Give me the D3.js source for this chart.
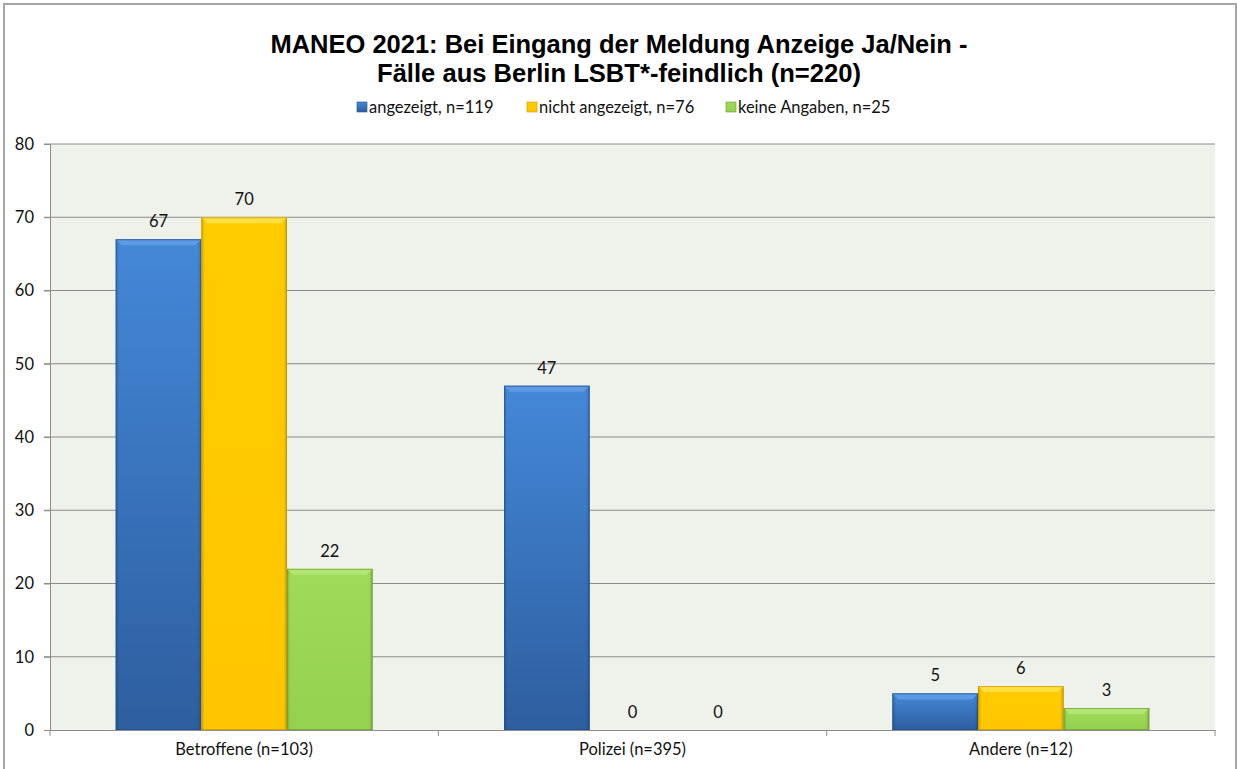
<!doctype html>
<html lang="de">
<head>
<meta charset="utf-8">
<title>MANEO 2021: Anzeige Ja/Nein</title>
<style>
body { margin: 0; background: #fff; font-family: Lato, "Open Sans", Arial, sans-serif; }
svg { display: block; }
</style>
</head>
<body>
<div id="chart"></div>
<script src="https://cdnjs.cloudflare.com/ajax/libs/d3/7.8.5/d3.min.js"></script>
<script>
var categories = ["Betroffene (n=103)", "Polizei (n=395)", "Andere (n=12)"];
var series = ["angezeigt, n=119", "nicht angezeigt, n=76", "keine Angaben, n=25"];
var angezeigt = [67, 47, 5];
var nichtAngezeigt = [70, 0, 6];
var keineAngaben = [22, 0, 3];
var yTicks = [0, 10, 20, 30, 40, 50, 60, 70, 80];
var titleLines = ["MANEO 2021: Bei Eingang der Meldung Anzeige Ja/Nein -",
                  "Fälle aus Berlin LSBT*-feindlich (n=220)"];

var values = [angezeigt, nichtAngezeigt, keineAngaben];
var colors = [
    {top: "#4488d8", bottom: "#2d5e9f", bevel: "#5c9ae4", edge: "#24508a"},
    {top: "#ffcc00", bottom: "#ffc600", bevel: "#ffe040", edge: "#c99400"},
    {top: "#9fdb58", bottom: "#94d14f", bevel: "#b4e676", edge: "#6f9c35"}
];

var W = 1237, H = 769;
var plot = {left: 50, right: 1215, top: 144, bottom: 730};
var labelFont = "Lato, 'Open Sans', sans-serif";

var svg = d3.select("#chart").append("svg").attr("width", W).attr("height", H);
var defs = svg.append("defs");
colors.forEach(function(c, i) {
    var g = defs.append("linearGradient").attr("id", "grad" + i)
        .attr("x1", 0).attr("y1", 0).attr("x2", 0).attr("y2", 1);
    g.append("stop").attr("offset", "0%").attr("stop-color", c.top);
    g.append("stop").attr("offset", "100%").attr("stop-color", c.bottom);
    var s = defs.append("linearGradient").attr("id", "side" + i)
        .attr("x1", 0).attr("y1", 0).attr("x2", 1).attr("y2", 0);
    s.append("stop").attr("offset", "0%").attr("stop-color", "#000").attr("stop-opacity", 0.18);
    s.append("stop").attr("offset", "4%").attr("stop-color", "#000").attr("stop-opacity", 0);
    s.append("stop").attr("offset", "96%").attr("stop-color", "#000").attr("stop-opacity", 0);
    s.append("stop").attr("offset", "100%").attr("stop-color", "#000").attr("stop-opacity", 0.2);
});

// outer frame
svg.append("rect").attr("x", 4).attr("y", 4).attr("width", W - 5).attr("height", H + 10)
    .attr("fill", "none").attr("stroke", "#a6a6a6").attr("stroke-width", 2);

// title
svg.append("g").selectAll("text").data(titleLines).join("text")
    .attr("x", 619)
    .attr("y", function(d, i) { return 53 + i * 29; })
    .attr("text-anchor", "middle")
    .attr("font-family", "'Liberation Sans', Arial, sans-serif")
    .attr("font-weight", "bold")
    .attr("font-size", 26.5)
    .attr("textLength", function(d, i) { return i === 0 ? 697 : 484; })
    .attr("lengthAdjust", "spacingAndGlyphs")
    .attr("fill", "#000")
    .text(function(d) { return d; });

// legend
var legendX = [357, 527, 726];
var legend = svg.append("g").selectAll("g").data(series).join("g")
    .attr("transform", function(d, i) { return "translate(" + legendX[i] + ",102)"; });
legend.append("rect").attr("width", 10).attr("height", 10)
    .attr("fill", function(d, i) { return "url(#grad" + i + ")"; })
    .attr("stroke", function(d, i) { return colors[i].edge; }).attr("stroke-width", 0.6);
legend.append("text").attr("x", 12).attr("y", 10.5)
    .attr("font-family", labelFont)
    .attr("font-size", 16.5).attr("fill", "#111")
    .text(function(d) { return d; });

// scales
var x0 = d3.scaleBand().domain(categories).range([plot.left, plot.right]).padding(0);
var x1 = d3.scaleBand().domain(series).range([0, x0.bandwidth()])
    .paddingInner(0).paddingOuter(0.767);
var y = d3.scaleLinear().domain([0, 80]).range([plot.bottom, plot.top]);

// plot background
svg.append("rect").attr("x", plot.left).attr("y", plot.top)
    .attr("width", plot.right - plot.left).attr("height", plot.bottom - plot.top)
    .attr("fill", "#eff2ea");

// gridlines
svg.append("g").selectAll("line").data(yTicks.filter(function(t) { return t > 0; })).join("line")
    .attr("x1", plot.left - 6).attr("x2", plot.right)
    .attr("y1", function(d) { return y(d); }).attr("y2", function(d) { return y(d); })
    .attr("stroke", "#8c8c8c").attr("stroke-width", 1);

// y axis
var yAxis = svg.append("g").attr("transform", "translate(" + plot.left + ",0)")
    .call(d3.axisLeft(y).tickValues(yTicks).tickSize(6).tickPadding(10));
yAxis.select(".domain").attr("stroke", "#8c8c8c");
yAxis.selectAll(".tick line").attr("stroke", "#8c8c8c");
yAxis.selectAll(".tick text").attr("font-family", labelFont)
    .attr("font-size", 16.5).attr("fill", "#111");

// x axis
var xAxis = svg.append("g").attr("transform", "translate(0," + plot.bottom + ")")
    .call(d3.axisBottom(x0).tickSize(0).tickPadding(13));
xAxis.select(".domain").attr("stroke", "#8c8c8c");
xAxis.selectAll(".tick text").attr("font-family", labelFont)
    .attr("font-size", 16.5).attr("fill", "#111");
svg.append("g").selectAll("line").data(categories.concat(["end"])).join("line")
    .attr("x1", function(d, i) { return plot.left + i * x0.bandwidth(); })
    .attr("x2", function(d, i) { return plot.left + i * x0.bandwidth(); })
    .attr("y1", plot.bottom).attr("y2", plot.bottom + 6)
    .attr("stroke", "#8c8c8c");

// bars
var groups = svg.append("g").selectAll("g").data(categories).join("g")
    .attr("transform", function(d) { return "translate(" + x0(d) + ",0)"; });

var bars = groups.selectAll("g").data(function(d, ci) {
    return series.map(function(s, si) { return {series: s, si: si, value: values[si][ci]}; });
}).join("g");

bars.filter(function(d) { return d.value > 0; }).each(function(d) {
    var g = d3.select(this);
    var bx = x1(d.series), bw = x1.bandwidth();
    var top = y(d.value), bh = y(0) - top;
    var c = colors[d.si];
    g.append("rect").attr("x", bx).attr("y", top).attr("width", bw).attr("height", bh)
        .attr("fill", "url(#grad" + d.si + ")");
    g.append("rect").attr("x", bx).attr("y", top).attr("width", bw).attr("height", bh)
        .attr("fill", "url(#side" + d.si + ")");
    var bev = Math.min(6, bh / 2);
    g.append("path")
        .attr("d", "M" + bx + "," + top + "L" + (bx + bw) + "," + top +
              "L" + (bx + bw - bev) + "," + (top + bev) + "L" + (bx + bev) + "," + (top + bev) + "Z")
        .attr("fill", c.bevel);
    g.append("rect").attr("x", bx + 0.5).attr("y", top + 0.5).attr("width", bw - 1).attr("height", bh - 1)
        .attr("fill", "none").attr("stroke", c.edge).attr("stroke-width", 1).attr("stroke-opacity", 0.7);
});

// data labels
bars.append("text")
    .attr("x", function(d) { return x1(d.series) + x1.bandwidth() / 2; })
    .attr("y", function(d) { return y(d.value) - 12; })
    .attr("text-anchor", "middle")
    .attr("font-family", labelFont)
    .attr("font-size", 16.5).attr("fill", "#111")
    .text(function(d) { return d.value; });
</script>
</body>
</html>
